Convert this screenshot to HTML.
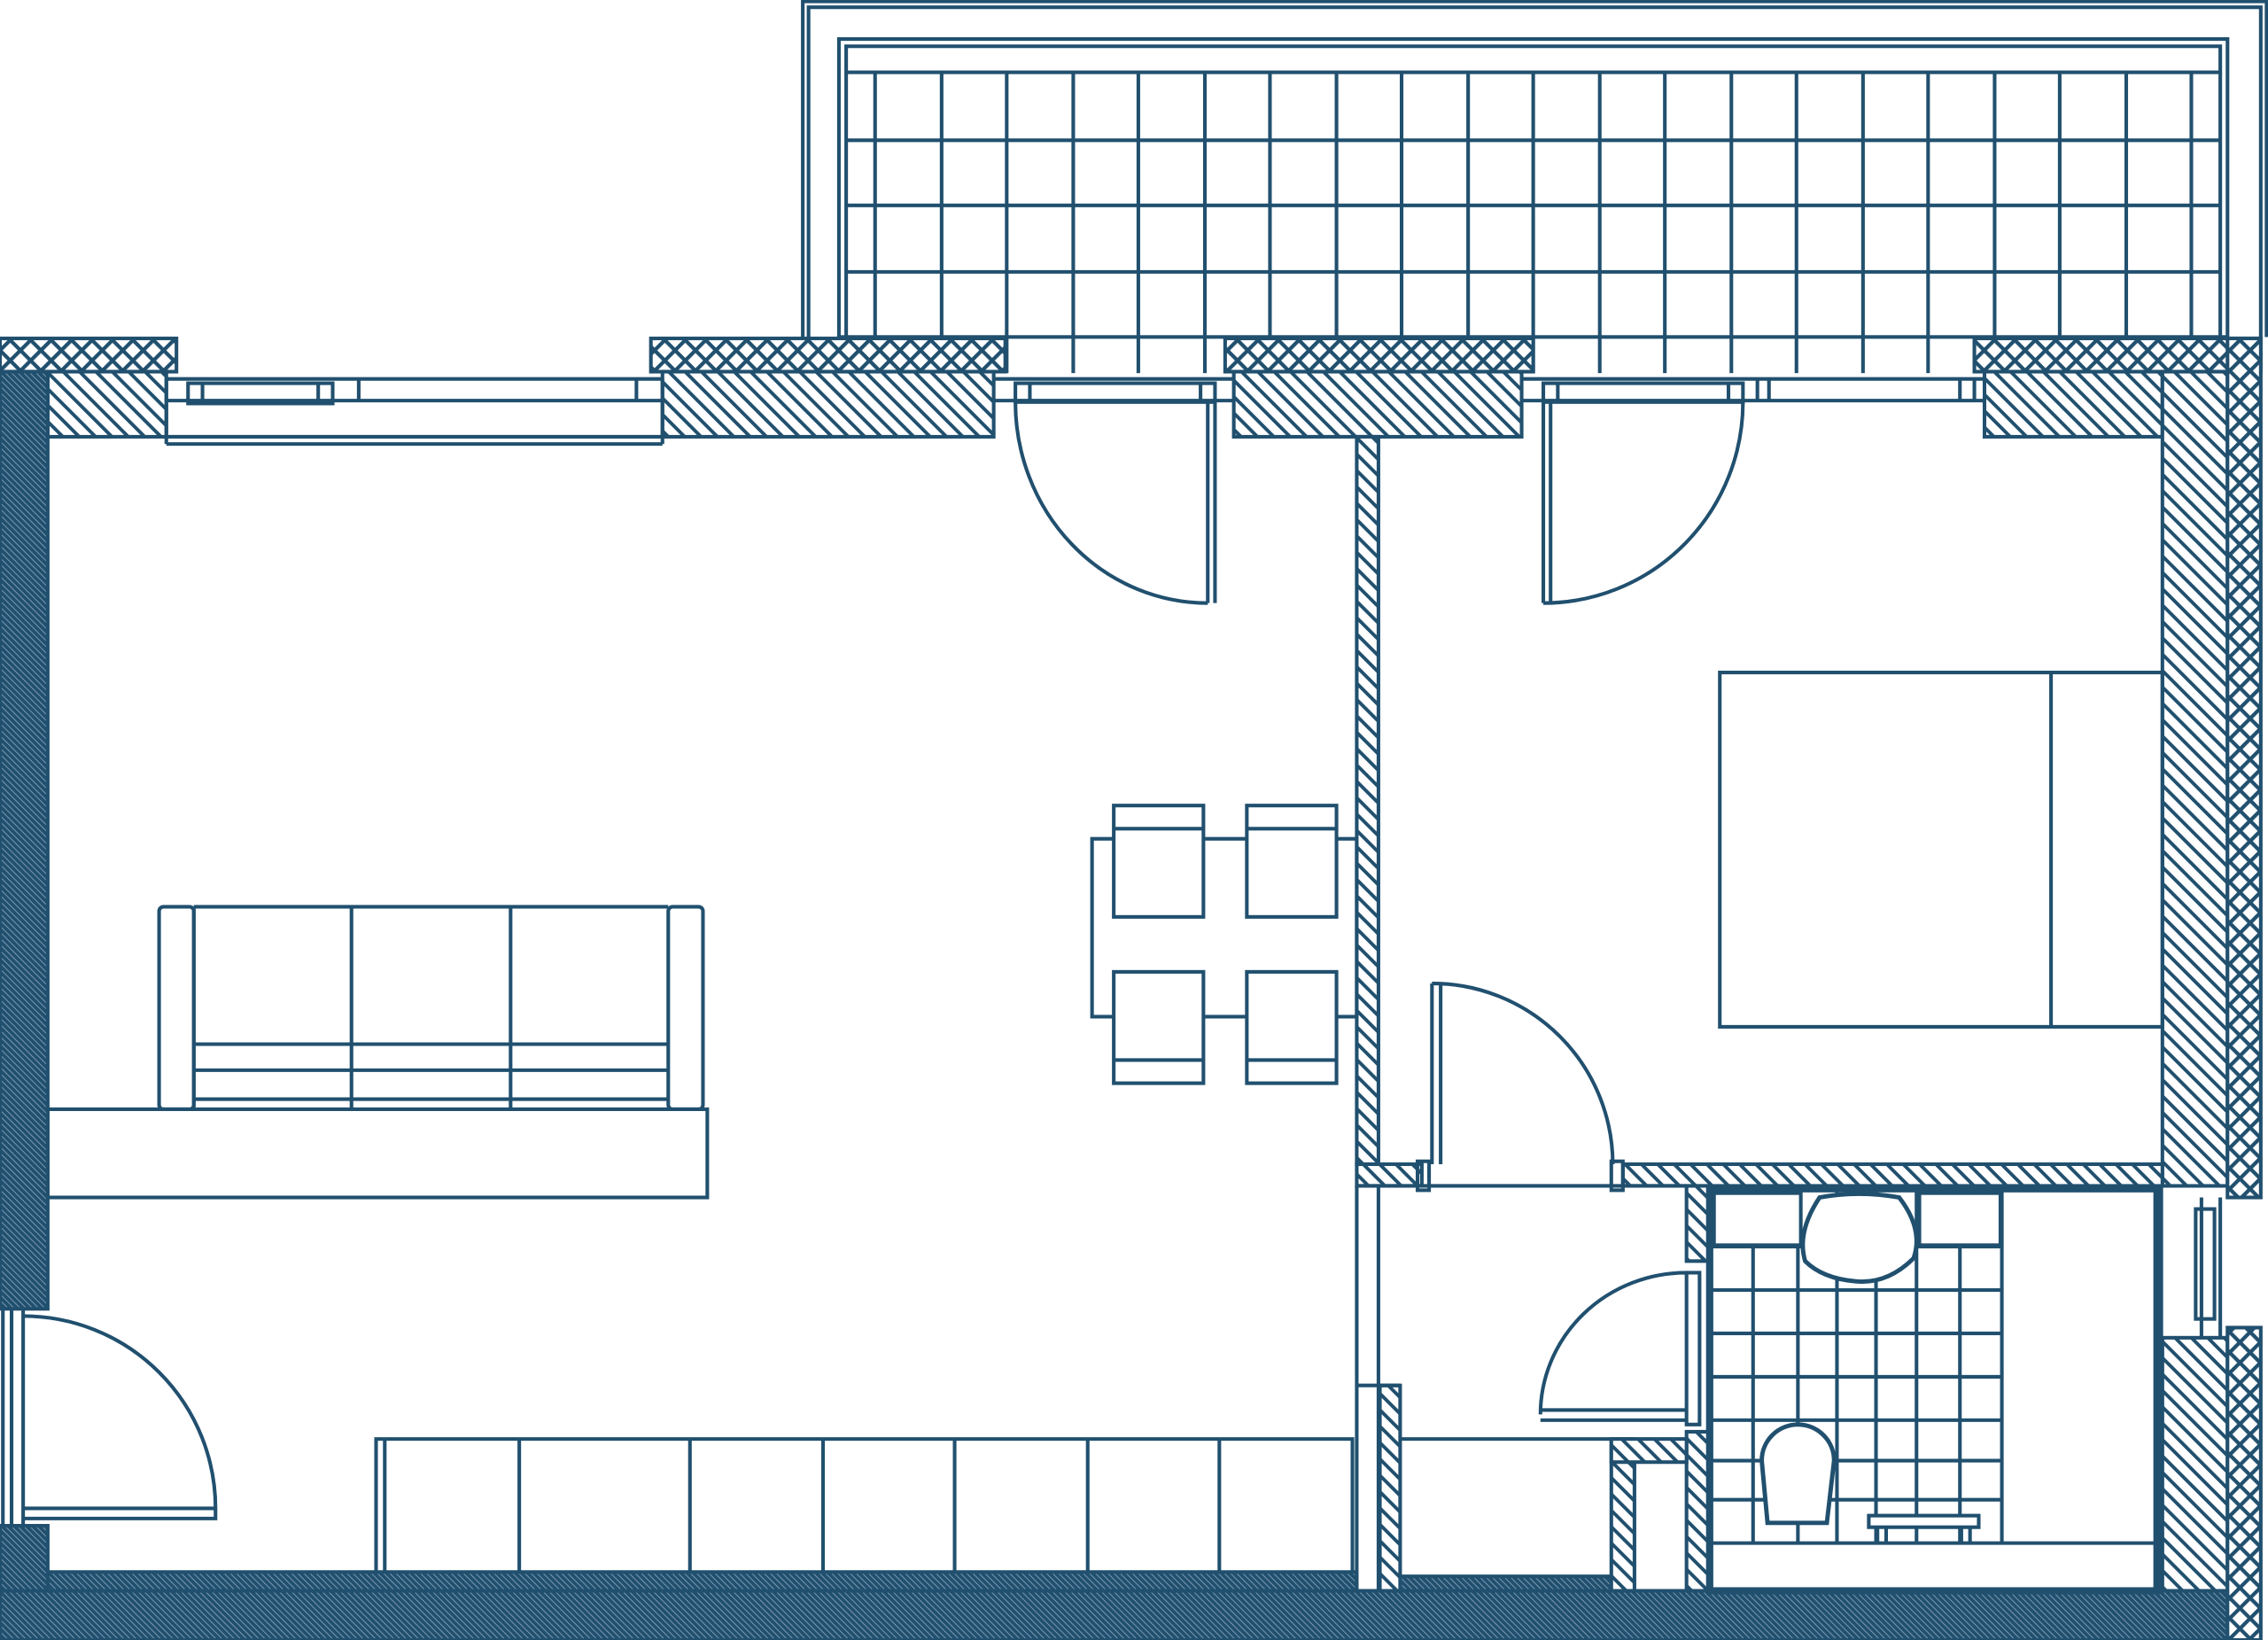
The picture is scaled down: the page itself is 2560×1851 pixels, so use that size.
<!DOCTYPE html>
<html><head><meta charset="utf-8"><style>html,body{margin:0;padding:0;background:#fff}svg{display:block}</style></head>
<body>
<svg width="2560" height="1851" viewBox="0 0 1568 1134" preserveAspectRatio="none" xmlns="http://www.w3.org/2000/svg">
<defs>
<pattern id="h" width="8" height="8" patternUnits="userSpaceOnUse" patternTransform="rotate(-45)">
<rect width="8" height="8" fill="#fff"/><rect x="0" y="0" width="2.4" height="8" fill="#21506f"/></pattern>
<pattern id="x" width="10" height="10" patternUnits="userSpaceOnUse" patternTransform="rotate(45)">
<rect width="10" height="10" fill="#fff"/><rect width="2.6" height="10" fill="#21506f"/><rect width="10" height="2.6" fill="#21506f"/></pattern>
<pattern id="d" width="3" height="3" patternUnits="userSpaceOnUse" patternTransform="rotate(-45)">
<rect width="3" height="3" fill="#21506f"/><rect width="0.6" height="3" fill="#7c9ab0"/></pattern>
</defs>
<g fill="none" stroke="#21506f" stroke-width="2.5">
<!-- balcony -->
<path d="M555,233V1H1567V233M559,233V5H1563V233"/>
<rect x="580" y="27" width="960" height="206"/>
<rect x="585" y="32" width="950" height="18"/>
<path d="M585,50V233M1535,50V233"/>
<path d="M605,50V258M651,50V258M696,50V258M742,50V258M787,50V258M833,50V258M878,50V233M924,50V233M969,50V233M1015,50V233M1060,50V258M1106,50V258M1151,50V258M1197,50V258M1242,50V258M1288,50V258M1333,50V258M1379,50V233M1424,50V233M1470,50V233M1515,50V233"/>
<path d="M585,97H1535M585,142H1535M585,188H1535"/>
</g>
<g stroke="#21506f" stroke-width="2.5">
<rect x="0" y="234" width="122" height="23" fill="url(#x)"/>
<rect x="450" y="234" width="245" height="23" fill="url(#x)"/>
<rect x="847" y="234" width="213" height="23" fill="url(#x)"/>
<rect x="1365" y="234" width="198" height="23" fill="url(#x)"/>
<rect x="33" y="257" width="82" height="45" fill="url(#h)"/>
<rect x="458" y="257" width="229" height="45" fill="url(#h)"/>
<rect x="853" y="257" width="199" height="45" fill="url(#h)"/>
<rect x="1372" y="257" width="123" height="45" fill="url(#h)"/>
<rect x="0" y="257" width="33" height="648" fill="url(#d)"/>
<rect x="0" y="1055" width="33" height="46" fill="url(#d)"/>
<rect x="0" y="1100" width="1540" height="34" fill="url(#d)"/>
<rect x="33" y="1087" width="905" height="13" fill="url(#d)"/>
<rect x="968" y="1090" width="146" height="10" fill="url(#d)"/>
<rect x="1495" y="257" width="45" height="563" fill="url(#h)"/>
<rect x="1540" y="234" width="23" height="594" fill="url(#x)"/>
<rect x="1495" y="925" width="45" height="175" fill="url(#h)"/>
<rect x="1540" y="918" width="23" height="216" fill="url(#x)"/>
<rect x="938" y="302" width="15" height="503" fill="url(#h)"/>
<rect x="938" y="805" width="45" height="15" fill="url(#h)"/>
<rect x="1122" y="805" width="373" height="15" fill="url(#h)"/>
<rect x="954" y="958" width="14" height="142" fill="url(#h)"/>
<rect x="1166" y="820" width="16" height="52" fill="url(#h)"/>
<rect x="1166" y="990" width="16" height="110" fill="url(#h)"/>
<rect x="1114" y="995" width="16" height="105" fill="url(#h)"/>
<rect x="1114" y="995" width="52" height="16" fill="url(#h)"/>
</g>
<g fill="none" stroke="#21506f" stroke-width="2.5">
<path d="M115,262H458M115,277H458M115,302H458M115,307H458M115,262V307M458,262V307"/>
<rect x="130" y="265" width="100" height="14"/><path d="M140,265V279M220,265V279M248,262V277M440,262V277"/>
<path d="M687,262H853M687,277H853"/><rect x="702" y="265" width="138" height="13"/><path d="M712,265V278M830,265V278"/>
<path d="M1052,262H1372M1052,277H1372"/><rect x="1067" y="265" width="138" height="13"/><path d="M1077,265V278M1195,265V278M1215,262V277M1223,262V277M1355,262V277M1365,262V277"/>
<path d="M1522,828V925M1535,828V925"/><rect x="1518" y="836" width="13" height="76"/>
<path d="M2,905V1055M8,905V1055M16,905V1055"/>
<path d="M16,1043H149V1050H16M16,910A133,133 0 0 1 149,1043"/>
<path d="M840,278V417M835,278V417M835,417A133,139 0 0 1 702,278"/>
<path d="M1067,278V417M1072,278V417M1067,417A138,139 0 0 0 1205,278"/>
<path d="M990,680V805M996,680V805M990,680A125,125 0 0 1 1115,805"/>
<rect x="980" y="803" width="8" height="20"/><rect x="1114" y="803" width="8" height="20"/>
<path d="M1166,880H1175V985H1166Z M1065,975H1166V982H1065M1166,880A101,98 0 0 0 1065,978"/>
<path d="M938,820H1166M938,820V1100M953,820V1100M938,958H968M968,995H1114"/>
<rect x="110" y="627" width="24" height="140" rx="3"/>
<rect x="462" y="627" width="24" height="140" rx="3"/>
<path d="M134,627H462M134,722H462M134,740H462M134,760H462M243,627V767M353,627V767M134,627V767"/>
<rect x="33" y="767" width="456" height="61"/>
<rect x="755" y="580" width="183" height="123"/>
<rect x="770" y="557" width="62" height="77" fill="#fff"/><path d="M770,573H832"/>
<rect x="862" y="557" width="62" height="77" fill="#fff"/><path d="M862,573H924"/>
<rect x="770" y="672" width="62" height="77" fill="#fff"/><path d="M770,733H832"/>
<rect x="862" y="672" width="62" height="77" fill="#fff"/><path d="M862,733H924"/>
<rect x="1189" y="465" width="306" height="245"/><path d="M1418,465V710"/>
<path d="M260,1087V995H935V1087M266,995V1087M359,995V1087M477,995V1087M569,995V1087M660,995V1087M752,995V1087M843,995V1087"/>
<rect x="1182" y="822" width="311" height="278" stroke-width="5"/>
<path d="M1182,862H1384M1182,892H1384M1182,922H1384M1182,952H1384M1182,982H1384M1182,1010H1384M1182,1037H1384M1182,1067H1493"/>
<path d="M1212,822V1067M1243,822V1067M1270,822V1067M1297,822V1067M1325,822V1067M1355,822V1067M1384,822V1067M1490,822V1100"/>
<rect x="1185" y="825" width="60" height="36" fill="#fff"/><rect x="1327" y="825" width="56" height="36" fill="#fff"/>
<path d="M1258,828Q1285,823 1313,828Q1330,850 1323,870Q1305,888 1283,886Q1260,884 1248,872Q1242,852 1258,828Z" fill="#fff" stroke-width="3"/>
<path d="M1218,1010A25,25 0 0 1 1268,1010L1263,1053H1222Z" fill="#fff" stroke-width="3"/>
<rect x="1292" y="1048" width="76" height="8" fill="#fff"/><path d="M1298,1056V1067M1304,1056V1067M1356,1056V1067M1362,1056V1067"/>
</g>
</svg>
</body></html>
